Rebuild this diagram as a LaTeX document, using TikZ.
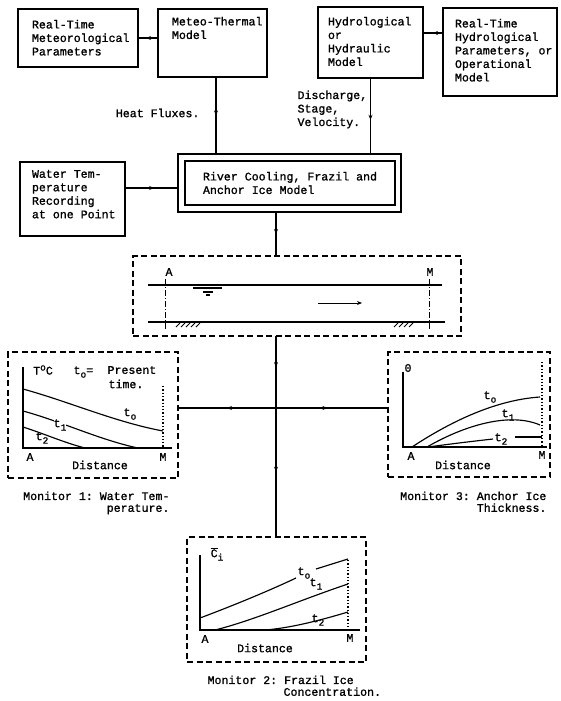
\documentclass[tikz,border=0pt]{standalone}
\usepackage{fontspec}
\setmonofont{Liberation Mono}[FakeBold=1.2]
\usetikzlibrary{arrows.meta,decorations.markings,calc}
\newcommand\bt[5]{\parbox[c][#2][t]{#1}{\raggedright\leftskip=#3\relax\parindent=0pt\vspace*{#4}#5\par}}
\newcommand\lowsub[1]{\raisebox{-3.5pt}{\fontsize{9.5}{9.5}\selectfont #1}}
\newcommand\highsup[1]{\raisebox{4pt}{\fontsize{9.5}{9.5}\selectfont #1}}
\begin{document}
\begin{tikzpicture}[x=1pt,y=-1pt,line width=1.15pt,
  every node/.style={font=\fontsize{11.6}{13.5}\selectfont\ttfamily},
  bx/.style={draw,anchor=north west,inner sep=0pt,outer sep=0pt},
  dbox/.style={draw,dash pattern=on 6pt off 3.5pt,anchor=north west,inner sep=0pt,outer sep=0pt},
  txt/.style={inner sep=0pt},
  capt/.style={inner sep=0pt,font=\fontsize{11.6}{11.8}\selectfont\ttfamily},
  midarr/.style={postaction={decorate},decoration={markings,mark=at position #1 with {\arrow{Stealth[length=5pt,width=4pt]}}}},
  dotv/.style={dotted,line width=1.3pt},
  secline/.style={dash pattern=on 6pt off 2pt on 1pt off 2pt,line width=0.9pt}]
\useasboundingbox[fill=white] (0,0) rectangle (561,701);

% top boxes
\node[bx] (b1) at (18,9) {\bt{120pt}{58pt}{14pt}{11pt}{Real-Time\\Meteorological\\Parameters}};
\node[bx] (b2) at (158,9) {\bt{109pt}{68pt}{14pt}{8pt}{Meteo-Thermal\\Model}};
\node[bx] (b3) at (318,7) {\bt{105pt}{71pt}{10pt}{10pt}{Hydrological\\or\\Hydraulic\\Model}};
\node[bx] (b4) at (443,8) {\bt{114pt}{88pt}{12pt}{11pt}{Real-Time\\Hydrological\\Parameters, or\\Operational\\Model}};
\node[bx] (b5) at (20,162) {\bt{105pt}{74pt}{12pt}{8pt}{Water Tem-\\perature\\Recording\\at one Point}};
\node[bx] (rc) at (178,154) {\bt{223pt}{58pt}{25pt}{18pt}{River Cooling, Frazil and\\Anchor Ice Model}};
\draw ([shift={(7,7)}]rc.north west) rectangle ([shift={(-6,-7)}]rc.south east);

\node[txt,anchor=east] (hf) at (200,113) {Heat Fluxes.};
\node[txt,anchor=north west,align=left] (dsv) at (297,90) {Discharge,\\Stage,\\Velocity.};

% river sketch
\node[dbox,minimum width=328pt,minimum height=80pt] (sk) at (133,256) {};
\draw (148,285) -- (442,285);
\draw (148,322) -- (445,322);
\draw[secline] (165,279) -- (165,329);
\draw[secline] (429,279) -- (429,329);
\node[txt] (la) at (169,272) {A};
\node[txt] (lm) at (430,272) {M};
\draw[line width=1.4pt] (193,288) -- (222,288);
\draw (203,292) -- (213,292);
\draw (206,295) -- (210,295);
\draw[line width=0.9pt,-{Stealth[length=5pt,width=4pt]}] (318,303) -- (362,303);
\foreach \x in {176,181,...,196} \draw[line width=0.8pt] (\x,327) -- (\x+4,323);
\foreach \x in {394,399,...,409} \draw[line width=0.8pt] (\x,327) -- (\x+4,323);

% monitors
\node[dbox,minimum width=170pt,minimum height=126pt] (m1) at (8,352) {};
\node[dbox,minimum width=162pt,minimum height=125pt] (m3) at (388,352) {};
\node[dbox,minimum width=179pt,minimum height=125pt] (m2) at (187,537) {};

% connectors
\coordinate (J) at (276,408);
\coordinate (c34) at ([yshift=9.5pt]b3.east);
\coordinate (hfx) at ([xshift=3.5pt]b2.south);
\coordinate (wt) at ([yshift=11pt]b5.east);
\draw[midarr=0.6] (b1.east -| b2.west) -- (b1.east);
\draw[midarr=0.5] (c34 -| b4.west) -- (c34);
\draw[midarr=0.5] (hfx) -- (hfx |- rc.north);
\draw[midarr=0.55] (b3.south) -- (b3.south |- rc.north);
\draw[midarr=0.55] (wt) -- (wt -| rc.west);
\draw[midarr=0.5] (J |- rc.south) -- (J |- sk.north);
\draw[postaction={decorate},decoration={markings,
   mark=at position 0.155 with {\arrow{Stealth[length=5pt,width=4pt]}},
   mark=at position 0.675 with {\arrow{Stealth[length=5pt,width=4pt]}}}]
   (J |- sk.south) -- (J |- m2.north);
\draw[midarr=0.5] (J) -- (J -| m1.east);
\draw[midarr=0.46] (J) -- (J -| m3.west);

% monitor 1
\draw (23,367) -- (23,448) -- (172,448);
\draw[dotv] (163,386) -- (163,448);
\draw (23,389) .. controls (70,402) and (115,422) .. (163,431);
\draw (23,411) .. controls (60,421) and (100,440) .. (138,448);
\draw (23,427) .. controls (45,434) and (65,443) .. (85,448);
\node[txt] (m1y) at (43,370) {T\highsup{o}C};
\node[txt,anchor=west] (m1t) at (73,372) {t\lowsub{o}=};
\node[txt,anchor=west] (m1p) at (107,370) {Present};
\node[txt,anchor=west] (m1q) at (108,384) {time.};
\node[txt] (m1c0) at (130,414) {t\lowsub{o}};
\node[txt,fill=white] (m1c1) at (60,425) {t\lowsub{1}};
\node[txt] (m1c2) at (42,438) {t\lowsub{2}};
\node[txt] (m1a) at (30,457) {A};
\node[txt] (m1m) at (163,457) {M};
\node[txt] (m1d) at (100,465) {Distance};

% monitor 3
\draw (403,372) -- (403,447) -- (547,447);
\draw[dotv] (542,362) -- (542,447);
\draw (412,447) .. controls (450,422) and (495,400) .. (540,397);
\draw (427,447) .. controls (465,425) and (510,412) .. (540,425);
\draw (428,447) .. controls (450,444) and (475,441) .. (493,439);
\draw (515,437) -- (542,437);
\node[txt] (m3y) at (408,368) {0};
\node[txt] (m3c0) at (490,397) {t\lowsub{o}};
\node[txt] (m3c1) at (508,415) {t\lowsub{1}};
\node[txt] (m3c2) at (501,439) {t\lowsub{2}};
\node[txt] (m3a) at (411,456) {A};
\node[txt] (m3m) at (542,455) {M};
\node[txt] (m3d) at (463,465) {Distance};

% monitor 2
\draw (200,555) -- (200,630) -- (360,630);
\draw[dotv] (348,560) -- (348,630);
\draw (200,618) .. controls (240,603) and (275,588) .. (296,578);
\draw (316,569) -- (348,559);
\draw (215,630) .. controls (255,620) and (300,600) .. (348,584);
\draw (265,630) .. controls (290,628) and (318,621) .. (348,612);
\node[txt] (m2y) at (217,554) {$\overline{\hbox{C}}$\lowsub{i}};
\node[txt] (m2c0) at (304,573) {t\lowsub{o}};
\node[txt] (m2c1) at (316,584) {t\lowsub{1}};
\node[txt] (m2c2) at (318,620) {t\lowsub{2}};
\node[txt] (m2a) at (205,639) {A};
\node[txt] (m2m) at (350,638) {M};
\node[txt] (m2d) at (265,648) {Distance};

% captions
\node[capt,anchor=north east,align=right] (cap1) at (170,491) {Monitor 1: Water Tem-\\perature.};
\node[capt,anchor=north east,align=right] (cap3) at (547,491) {Monitor 3: Anchor Ice\\Thickness.};
\node[capt,anchor=north west,align=left] (cap2) at (207,675) {Monitor 2: Frazil Ice\\\hspace*{76pt}Concentration.};
\end{tikzpicture}
\end{document}
